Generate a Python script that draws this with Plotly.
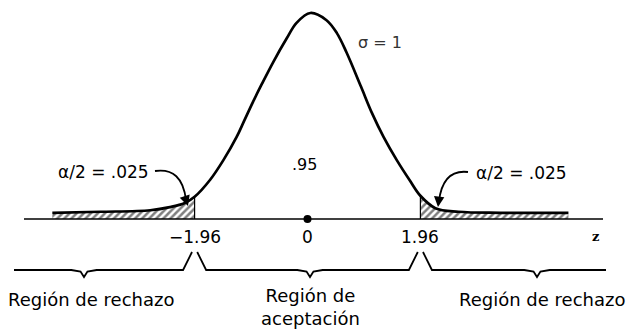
import plotly.graph_objects as go

# ---- data (standard normal, sigma = 1) ----
curve_z = [-4.43, -3.6, -2.73, -2.39, -2.13, -1.96, -1.69, -1.46, -1.23, -1.1,
           -0.95, -0.79, -0.59, -0.36, -0.19, 0.05, 0.33, 0.51, 0.68, 0.93,
           1.12, 1.32, 1.55, 1.78, 1.96, 2.22, 2.62, 3.35, 4.53]
curve_y = [0.012, 0.014, 0.017, 0.023, 0.031, 0.043, 0.076, 0.114, 0.159, 0.190,
           0.226, 0.262, 0.305, 0.350, 0.380, 0.399, 0.385, 0.360, 0.322, 0.256,
           0.205, 0.159, 0.114, 0.074, 0.045, 0.021, 0.014, 0.012, 0.012]
crit_values = [-1.96, 1.96]
tick_values = [-1.96, 0, 1.96]
tick_labels = ["\u22121.96", "0", "1.96"]
region_labels = ["Región de rechazo", "Región de<br>aceptación", "Región de rechazo"]
center_prob = ".95"
tail_label = "\u03b1/2 = .025"
sigma_label = "\u03c3 = 1"

# ---- layout helpers (page pixel -> data) ----
PAGE_OFF = 0
X0_PX, PX_PER_Z, BASE_PX, PX_PER_Y = 307.5, 57.6, 219.0, 516.3
def px_x(p):
    return (p - X0_PX) / PX_PER_Z
def px_y(p):
    return (BASE_PX - p) / PX_PER_Y

FONT = "DejaVu Sans"
fig = go.Figure()

hatch = dict(shape="/", fgcolor="black", bgcolor="white", size=5, solidity=0.5)
i_left = curve_z.index(crit_values[0])
i_right = curve_z.index(crit_values[1])
fig.add_trace(go.Scatter(x=curve_z[:i_left + 1], y=curve_y[:i_left + 1], mode="lines",
                         line=dict(width=0, shape="spline", smoothing=1.0),
                         fill="tozeroy", fillcolor="white", fillpattern=hatch,
                         hoverinfo="skip", showlegend=False))
fig.add_trace(go.Scatter(x=curve_z[i_right:], y=curve_y[i_right:], mode="lines",
                         line=dict(width=0, shape="spline", smoothing=1.0),
                         fill="tozeroy", fillcolor="white", fillpattern=hatch,
                         hoverinfo="skip", showlegend=False))

# critical vertical lines
for c, idx in zip(crit_values, [i_left, i_right]):
    fig.add_trace(go.Scatter(x=[c, c], y=[0, curve_y[idx]], mode="lines",
                             line=dict(color="black", width=1.2),
                             hoverinfo="skip", showlegend=False))

# baseline axis
fig.add_shape(type="line", x0=px_x(24), x1=px_x(603), y0=0, y1=0,
              line=dict(color="black", width=1.5))

# main curve
fig.add_trace(go.Scatter(x=curve_z, y=curve_y, mode="lines",
                         line=dict(color="black", width=2.7, shape="spline", smoothing=1.0),
                         hoverinfo="skip", showlegend=False))

# mean dot
fig.add_trace(go.Scatter(x=[0], y=[0], mode="markers",
                         marker=dict(color="black", size=8),
                         hoverinfo="skip", showlegend=False))

# ---- braces under the axis ----
L = px_y(270)
PK = px_y(252)
TIP = px_y(277)
SUB = px_y(271.5)
def tip_pts(t):
    return [t - 0.22, t - 0.06, t, t + 0.06, t + 0.22], [L, SUB, TIP, SUB, L]

gap, run = 0.045, 0.2
segments = []
tx, ty = tip_pts(px_x(84))
segments.append(([px_x(14)] + tx + [crit_values[0] - run, crit_values[0] - gap],
                 [L] + ty + [L, PK]))
tx, ty = tip_pts(px_x(310))
segments.append(([crit_values[0] + gap, crit_values[0] + run] + tx + [crit_values[1] - run, crit_values[1] - gap],
                 [PK, L] + ty + [L, PK]))
tx, ty = tip_pts(px_x(537))
segments.append(([crit_values[1] + gap, crit_values[1] + run] + tx + [px_x(606)],
                 [PK, L] + ty + [L]))
for sx, sy in segments:
    fig.add_trace(go.Scatter(x=sx, y=sy, mode="lines",
                             line=dict(color="black", width=1.8),
                             hoverinfo="skip", showlegend=False))

# ---- curved arrows ----
def qpath(p0, c, p1):
    return "M {} {} Q {} {} {} {}".format(px_x(p0[0]), px_y(p0[1]), px_x(c[0]), px_y(c[1]),
                                          px_x(p1[0]), px_y(p1[1]))
fig.add_shape(type="path", path=qpath((155, 171), (182, 167), (186, 200)),
              line=dict(color="black", width=1.8))
fig.add_shape(type="path", path=qpath((468, 172), (443, 169), (439, 201)),
              line=dict(color="black", width=1.8))

annotations = []
annotations.append(dict(x=px_x(188), y=px_y(206), ax=-3, ay=-9, axref="pixel", ayref="pixel",
                        text="", showarrow=True, arrowhead=2, arrowsize=1.3, arrowwidth=1.6,
                        arrowcolor="black", xref="x", yref="y"))
annotations.append(dict(x=px_x(438), y=px_y(207), ax=1, ay=-9, axref="pixel", ayref="pixel",
                        text="", showarrow=True, arrowhead=2, arrowsize=1.3, arrowwidth=1.6,
                        arrowcolor="black", xref="x", yref="y"))

def txt(x, y, s, size, color="black", family=FONT, **kw):
    d = dict(x=x, y=y, text=s, showarrow=False, xref="x", yref="y",
             font=dict(family=family, size=size, color=color),
             xanchor="center", yanchor="middle")
    d.update(kw)
    annotations.append(d)

# tick labels
for v, lab in zip(tick_values, tick_labels):
    txt(v, px_y(237), lab, 17)
txt(px_x(595), px_y(236), "<b>z</b>", 13, family="DejaVu Serif")

# region labels
txt(px_x(91), px_y(299), region_labels[0], 18)
txt(px_x(310), px_y(307), region_labels[1], 18)
txt(px_x(542), px_y(299), region_labels[2], 18)

# other labels
txt(px_x(304), px_y(164), center_prob, 16)
txt(px_x(380), px_y(42), sigma_label, 16, color="#333333")
txt(px_x(103), px_y(172), tail_label, 17)
txt(px_x(521), px_y(173), tail_label, 17)

fig.update_layout(
    width=628, height=330,
    margin=dict(l=0, r=0, t=0, b=0),
    paper_bgcolor="white", plot_bgcolor="white",
    xaxis=dict(range=[px_x(PAGE_OFF), px_x(628 + PAGE_OFF)], visible=False, fixedrange=True),
    yaxis=dict(range=[px_y(330 + PAGE_OFF), px_y(PAGE_OFF)], visible=False, fixedrange=True),
    annotations=annotations,
    showlegend=False,
)

fig.write_html("out.html", config={"displayModeBar": False},
               post_script="document.body.style.margin='0px';document.body.style.overflow='hidden';")
